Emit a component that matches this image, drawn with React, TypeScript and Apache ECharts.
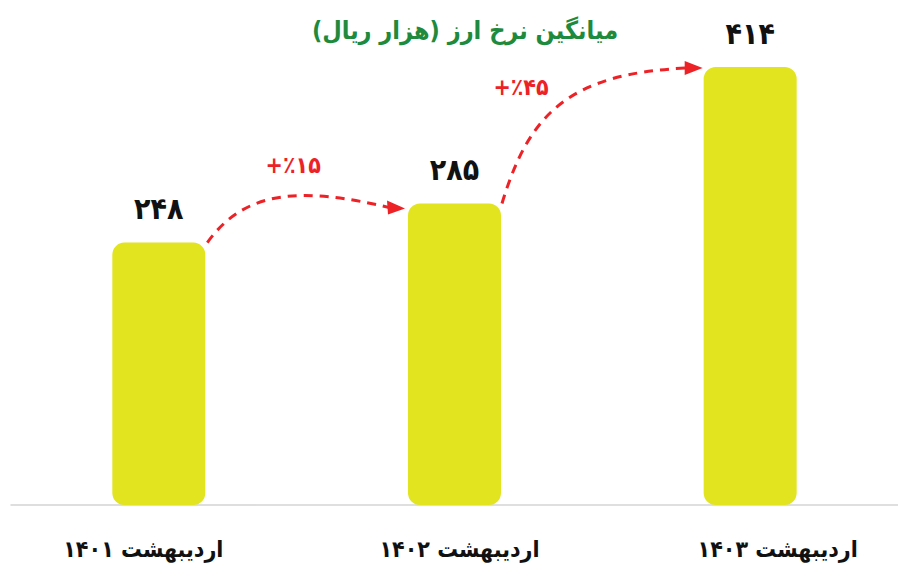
import React, { useEffect, useRef } from "react";
import * as echarts from "echarts";

const categories = ["اردیبهشت ۱۴۰۱", "اردیبهشت ۱۴۰۲", "اردیبهشت ۱۴۰۳"];
const values = [248, 285, 414];
const changeLabels = ["+٪۱۵", "+٪۴۵"];
const titleText = "میانگین نرخ ارز (هزار ریال)";

const FONT = "'DejaVu Sans Condensed', 'DejaVu Sans', sans-serif";
const RED = "#ec2227";
const toFa = (n: number) => String(n).replace(/\d/g, (d) => "۰۱۲۳۴۵۶۷۸۹"[+d]);

export default function App() {
  const ref = useRef<HTMLDivElement>(null);
  useEffect(() => {
    if (!ref.current) return;
    const chart = echarts.init(ref.current, null, { renderer: "svg" });
    const labelBase = {
      fontSize: 23,
      fontWeight: "bold",
      color: "#111",
      fontFamily: FONT,
    };
    const option: any = {
      animation: false,
      backgroundColor: "#ffffff",
      grid: { left: 11, width: 889, top: 67, bottom: 71 },
      xAxis: {
        type: "category",
        data: categories,
        axisLine: { lineStyle: { color: "#d4d4d4", width: 1.5 } },
        axisTick: { show: false },
        axisLabel: {
          margin: 32,
          ...labelBase,
          formatter: (v: string, i: number) => `{c${i}|${v}}`,
          rich: {
            c0: { ...labelBase, padding: [0, 31, 0, 0] },
            c1: { ...labelBase, padding: [0, 0, 0, 10] },
            c2: { ...labelBase, padding: [0, 0, 0, 55] },
          },
        },
      },
      yAxis: {
        type: "value",
        min: 0,
        max: 414,
        show: false,
        splitLine: { show: false },
      },
      series: [
        {
          type: "bar",
          data: values,
          barWidth: 93,
          itemStyle: { color: "#e1e41e", borderRadius: 12 },
          label: {
            show: true,
            position: "top",
            distance: 19,
            fontSize: 30,
            fontWeight: "bold",
            color: "#111",
            fontFamily: FONT,
            formatter: (p: any) => toFa(p.value),
          },
        },
      ],
    };
    chart.setOption(option);

    const pts = values.map((v, i) => chart.convertToPixel({ seriesIndex: 0 }, [i, v]) as number[]);
    const half = 46.5;
    const dash = { lineDash: [9, 7] };
    const graphics: any[] = [
      {
        type: "text",
        x: 465,
        y: 30,
        style: {
          text: titleText + "\u200F",
          fill: "#1d8a3d",
          font: `bold 25px ${FONT}`,
          textAlign: "center",
          textVerticalAlign: "middle",
        },
      },
    ];
    // arrow 1
    {
      const a = pts[0];
      const b = pts[1];
      const sx = a[0] + half + 2, sy = a[1];
      const tx = b[0] - half - 3, ty = b[1] + 5;
      graphics.push({
        type: "bezierCurve",
        shape: {
          x1: sx, y1: sy,
          cpx1: sx + 37, cpy1: sy - 52,
          cpx2: sx + 92, cpy2: sy - 57,
          x2: tx - 12, y2: ty,
        },
        style: { stroke: RED, lineWidth: 3, fill: null, ...dash },
      });
      graphics.push({
        type: "polygon",
        shape: { points: [[tx, ty], [tx - 18, ty - 8], [tx - 17, ty + 6]] },
        style: { fill: RED },
      });
      graphics.push({
        type: "text",
        x: (sx + tx) / 2 - 13,
        y: sy - 78,
        style: {
          text: changeLabels[0],
          fill: RED,
          font: `bold 23px ${FONT}`,
          textAlign: "center",
          textVerticalAlign: "middle",
        },
      });
    }
    // arrow 2
    {
      const a = pts[1];
      const b = pts[2];
      const sx = a[0] + half + 1, sy = a[1];
      const tx = b[0] - half - 1, ty = b[1] + 1;
      graphics.push({
        type: "bezierCurve",
        shape: {
          x1: sx, y1: sy,
          cpx1: sx + 27, cpy1: sy - 90,
          cpx2: sx + 67, cpy2: sy - 130,
          x2: tx - 16, y2: ty,
        },
        style: { stroke: RED, lineWidth: 3, fill: null, ...dash },
      });
      graphics.push({
        type: "polygon",
        shape: { points: [[tx, ty], [tx - 18, ty - 7], [tx - 18, ty + 7]] },
        style: { fill: RED },
      });
      graphics.push({
        type: "text",
        x: sx + 19,
        y: sy - 116,
        style: {
          text: changeLabels[1],
          fill: RED,
          font: `bold 23px ${FONT}`,
          textAlign: "center",
          textVerticalAlign: "middle",
        },
      });
    }
    chart.setOption({ graphic: graphics });
    return () => chart.dispose();
  }, []);
  return (
    <div
      ref={ref}
      style={{ position: "fixed", left: 0, top: 0, width: 898, height: 576, background: "#fff" }}
    />
  );
}
